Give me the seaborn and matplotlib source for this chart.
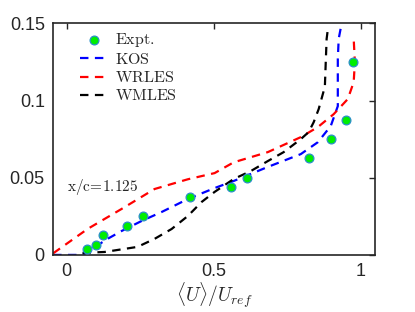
import matplotlib
matplotlib.use("Agg")
import matplotlib.pyplot as plt
import seaborn as sns
import numpy as np
import pandas as pd

# Data
expt_u = [0.068, 0.099, 0.122, 0.204, 0.259, 0.418, 0.558, 0.612, 0.823, 0.898, 0.949, 0.973]
expt_y = [0.0039, 0.0065, 0.0129, 0.0188, 0.0252, 0.0375, 0.044, 0.0498, 0.0628, 0.075, 0.0873, 0.1249]

kos_u = [-0.046, 0.054, 0.139, 0.187, 0.255, 0.323, 0.412, 0.503, 0.568, 0.684, 0.796, 0.854,
         0.898, 0.922, 0.922, 0.922, 0.925, 0.935]
kos_y = [0.0, 0.0, 0.0104, 0.0155, 0.022, 0.0278, 0.0362, 0.0433, 0.0479, 0.057, 0.0653, 0.073,
         0.0835, 0.0964, 0.109, 0.127, 0.140, 0.150]

wrles_u = [-0.046, 0.071, 0.187, 0.299, 0.412, 0.503, 0.568, 0.684, 0.796, 0.854, 0.908, 0.956,
           0.976, 0.980, 0.976]
wrles_y = [0.001, 0.0168, 0.0298, 0.0427, 0.049, 0.053, 0.060, 0.0666, 0.0763, 0.0828, 0.0912, 0.101,
           0.112, 0.125, 0.140]

wmles_u = [0.054, 0.129, 0.241, 0.299, 0.357, 0.412, 0.459, 0.503, 0.568, 0.626, 0.684, 0.738,
           0.796, 0.823, 0.840, 0.857, 0.878, 0.881, 0.884, 0.888]
wmles_y = [0.0013, 0.0019, 0.0052, 0.0104, 0.0168, 0.0252, 0.0343, 0.0408, 0.0492, 0.0543, 0.0608, 0.0666,
           0.075, 0.0796, 0.086, 0.0945, 0.109, 0.125, 0.140, 0.146]

x_ticks = [0, 0.5, 1]
x_ticklabels = ["0", "0.5", "1"]
y_ticks = [0, 0.05, 0.1, 0.15]
y_ticklabels = ["0", "0.05", "0.1", "0.15"]

# Theme
sns.set_theme(style="white")
plt.rcParams["font.family"] = ["Liberation Sans", "DejaVu Sans"]
plt.rcParams["mathtext.fontset"] = "cm"

fig = plt.figure(figsize=(4.15, 3.12), dpi=100)
ax = fig.add_axes([0.128, 0.183, 0.776, 0.742])

dash = (0, (3.8, 2.9))
kos = pd.DataFrame({"u": kos_u, "y": kos_y})
wrles = pd.DataFrame({"u": wrles_u, "y": wrles_y})
wmles = pd.DataFrame({"u": wmles_u, "y": wmles_y})
expt = pd.DataFrame({"u": expt_u, "y": expt_y})

# estimator=None -> draw points in order, no aggregation
sns.lineplot(data=kos, x="u", y="y", sort=False, estimator=None, color="#0000ff",
             linewidth=1.6, linestyle=dash, ax=ax, label="$\\mathrm{KOS}$")
sns.lineplot(data=wrles, x="u", y="y", sort=False, estimator=None, color="#ff0000",
             linewidth=1.6, linestyle=dash, ax=ax, label="$\\mathrm{WRLES}$")
sns.lineplot(data=wmles, x="u", y="y", sort=False, estimator=None, color="#000000",
             linewidth=1.6, linestyle=dash, ax=ax, label="$\\mathrm{WMLES}$")
sns.scatterplot(data=expt, x="u", y="y", color="#00ee00", edgecolor="#2a8fc9",
                linewidth=0.9, s=40, ax=ax, zorder=5, label="$\\mathrm{Expt.}$")

# Legend order: Expt first
handles, labels = ax.get_legend_handles_labels()
order = [3, 0, 1, 2]
ax.legend([handles[i] for i in order], [labels[i] for i in order],
          loc="upper left", bbox_to_anchor=(0.04, 1.03), frameon=False,
          fontsize=11.5, handlelength=1.7, handletextpad=0.45, labelspacing=0.2)

ax.text(0.0, 0.044, "$\\mathrm{x/c\\!=\\!1.125}$", fontsize=11, va="center", ha="left")

# Axes
ax.set_xlim(-0.046, 1.049)
ax.set_ylim(0, 0.15)
ax.set_xticks(x_ticks)
ax.set_xticklabels(x_ticklabels)
ax.set_yticks(y_ticks)
ax.set_yticklabels(y_ticklabels)
ax.tick_params(direction="in", length=4, width=1, top=True, right=True,
               labelsize=13, colors="0.15", pad=6)
ax.tick_params(labeltop=False, labelright=False)
for side in ["bottom", "left", "top", "right"]:
    ax.spines[side].set_linewidth(1.2)
    ax.spines[side].set_color("0.15")

ax.set_xlabel("$\\langle U\\rangle/U_{ref}$", fontsize=14, labelpad=0)
ax.set_ylabel("")

plt.savefig("out.png", dpi=100)
